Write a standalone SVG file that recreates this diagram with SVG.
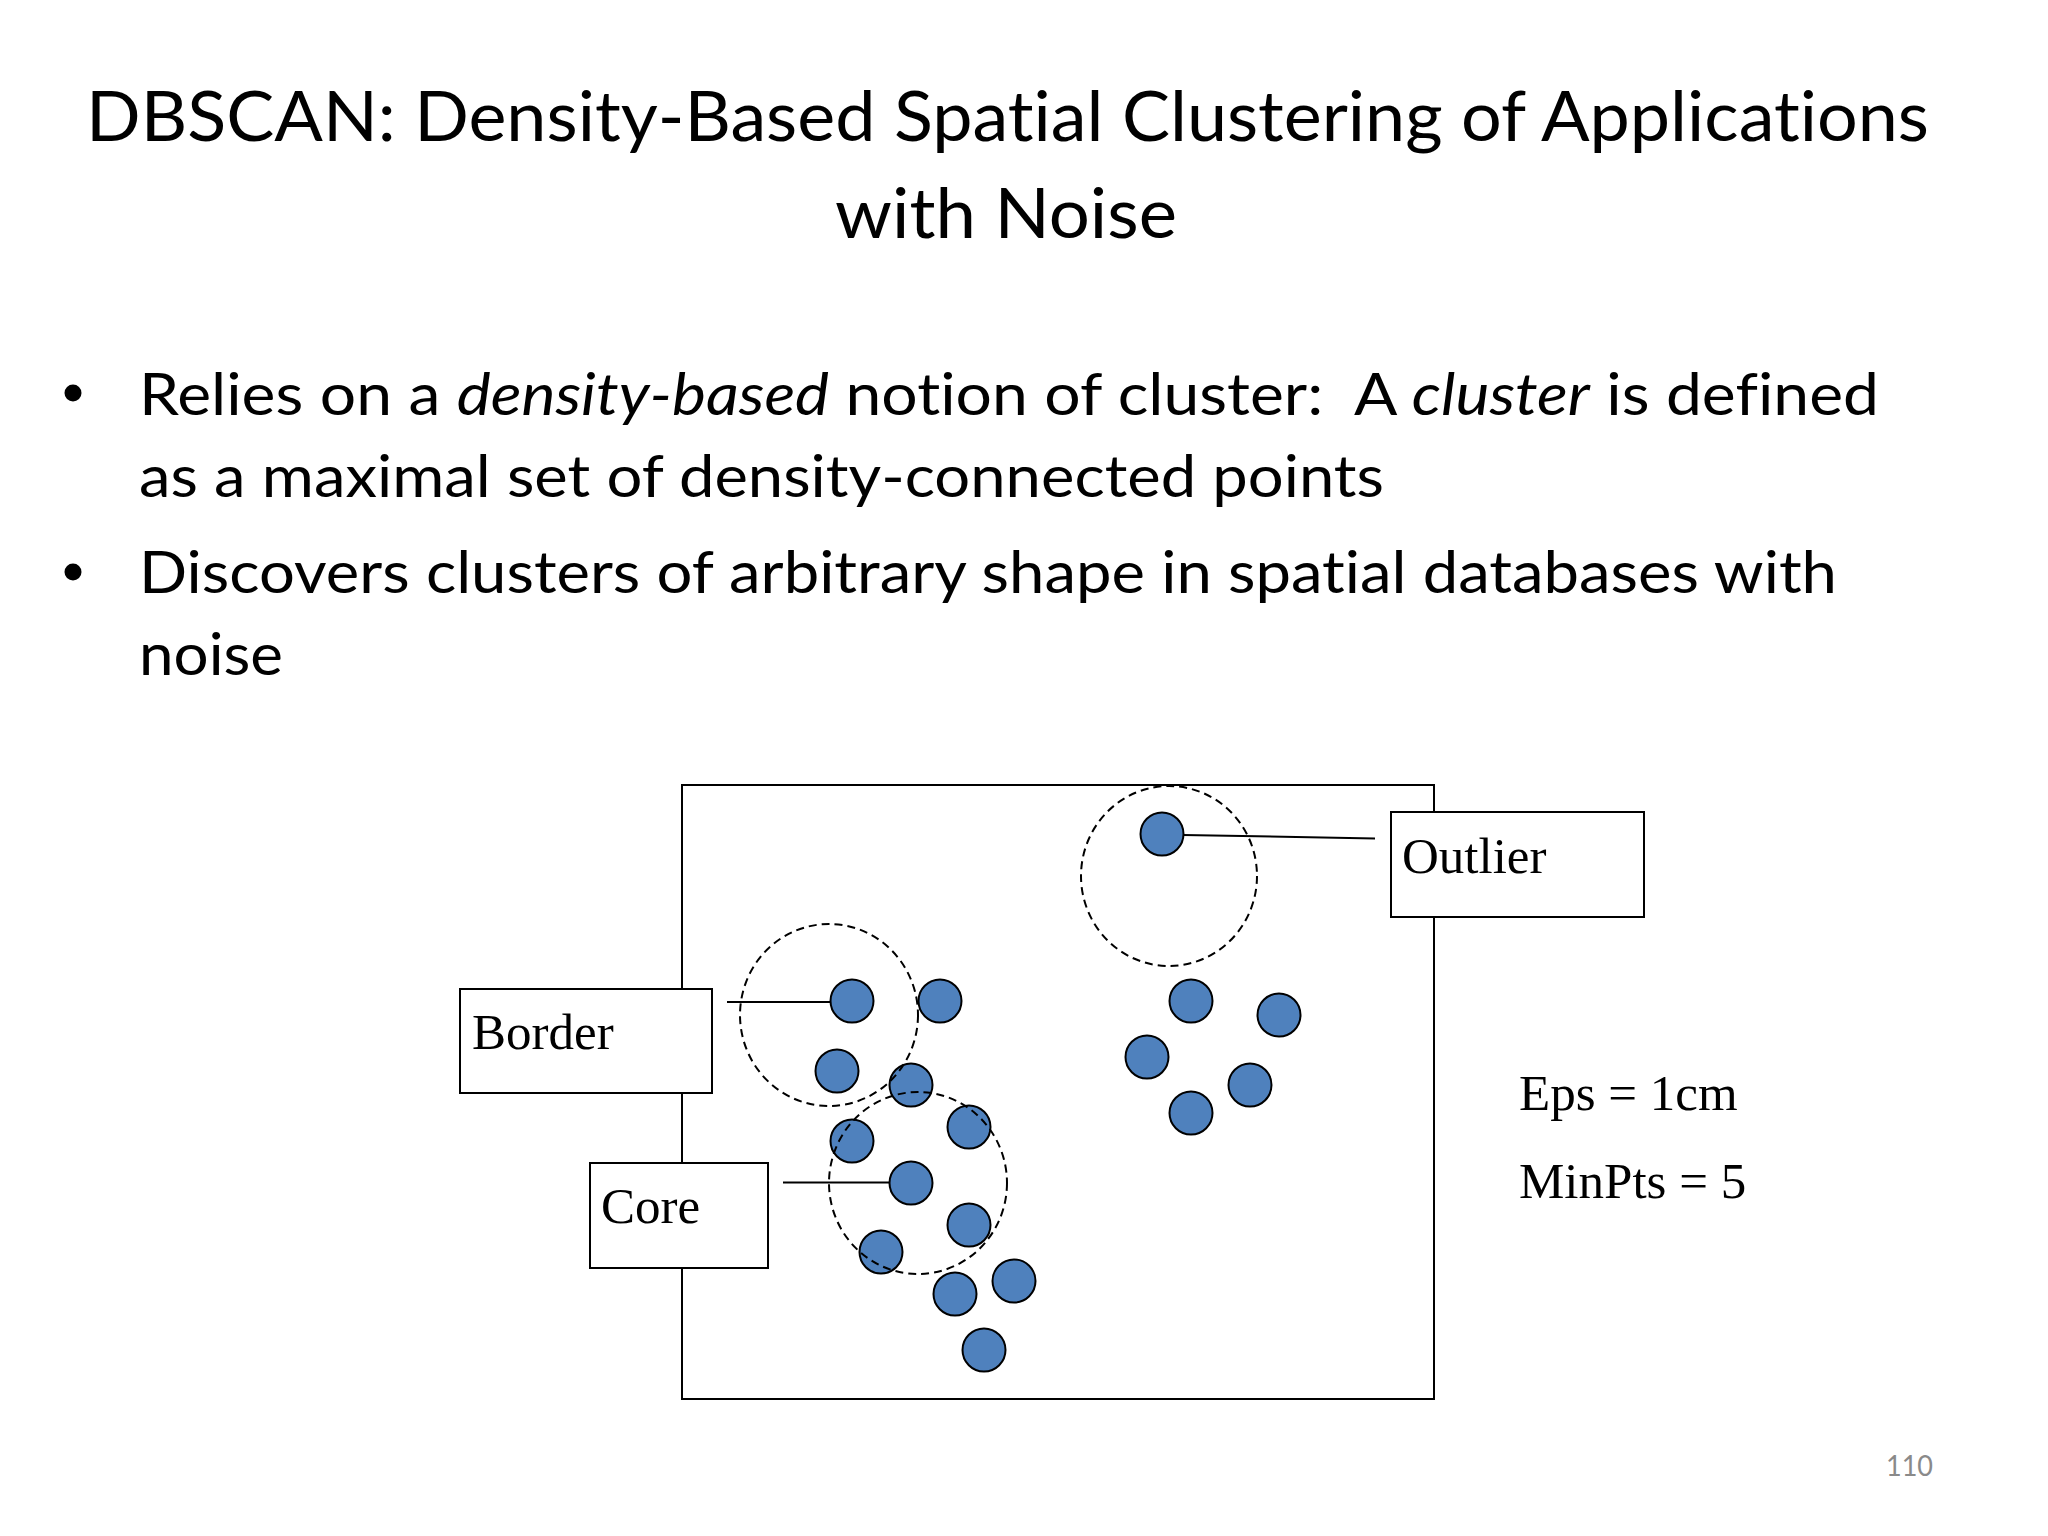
<svg xmlns="http://www.w3.org/2000/svg" width="2048" height="1536" viewBox="0 0 2048 1536">
<style>
text{font-variant-ligatures:none;font-feature-settings:"liga" 0,"clig" 0}
.title{font-family:Lato,"Open Sans","Noto Sans",sans-serif;font-size:70px;fill:#000}
.body{font-family:Lato,"Open Sans","Noto Sans",sans-serif;font-size:59px;fill:#000;white-space:pre}
.it{font-style:italic}
.lbl{font-family:"Liberation Serif","Times New Roman",serif;font-size:51px;fill:#000}
.box{fill:#fff;stroke:#000;stroke-width:2}
.frame{fill:none;stroke:#000;stroke-width:2}
.pt{fill:#4F81BD;stroke:#000;stroke-width:2}
.eps{fill:none;stroke:#000;stroke-width:2;stroke-dasharray:8 5}
.conn{stroke:#000;stroke-width:2;fill:none}
.pg{font-family:Lato,"Open Sans",sans-serif;font-size:29px;fill:#8a8a8a}
</style>
<rect width="2048" height="1536" fill="#fff"/>
<g id="title">
<text class="title" x="86" y="141" textLength="1843" lengthAdjust="spacingAndGlyphs">DBSCAN: Density-Based Spatial Clustering of Applications</text>
<text class="title" x="835" y="238" textLength="342" lengthAdjust="spacingAndGlyphs">with Noise</text>
</g>
<g id="bullets">
<circle cx="73" cy="393" r="8.5" fill="#000"/>
<text class="body" x="139" y="415" textLength="1740" lengthAdjust="spacingAndGlyphs">Relies on a <tspan class="it">density-based</tspan> notion of cluster:  A <tspan class="it">cluster</tspan> is defined</text>
<text class="body" x="139" y="497" textLength="1245" lengthAdjust="spacingAndGlyphs">as a maximal set of density-connected points</text>
<circle cx="73" cy="572" r="8.5" fill="#000"/>
<text class="body" x="139" y="593" textLength="1698" lengthAdjust="spacingAndGlyphs">Discovers clusters of arbitrary shape in spatial databases with</text>
<text class="body" x="139" y="675" textLength="144" lengthAdjust="spacingAndGlyphs">noise</text>
</g>
<g id="frame"><rect class="frame" x="682" y="785" width="752" height="614"/></g>
<g id="points">
<circle class="pt" cx="1162" cy="834" r="21.5"/>
<circle class="pt" cx="852" cy="1001" r="21.5"/>
<circle class="pt" cx="940" cy="1001" r="21.5"/>
<circle class="pt" cx="837" cy="1071" r="21.5"/>
<circle class="pt" cx="911" cy="1085" r="21.5"/>
<circle class="pt" cx="852" cy="1141" r="21.5"/>
<circle class="pt" cx="969" cy="1127" r="21.5"/>
<circle class="pt" cx="911" cy="1183" r="21.5"/>
<circle class="pt" cx="969" cy="1225" r="21.5"/>
<circle class="pt" cx="881" cy="1252" r="21.5"/>
<circle class="pt" cx="955" cy="1294" r="21.5"/>
<circle class="pt" cx="1014" cy="1281" r="21.5"/>
<circle class="pt" cx="984" cy="1350" r="21.5"/>
<circle class="pt" cx="1191" cy="1001" r="21.5"/>
<circle class="pt" cx="1279" cy="1015" r="21.5"/>
<circle class="pt" cx="1147" cy="1057" r="21.5"/>
<circle class="pt" cx="1250" cy="1085" r="21.5"/>
<circle class="pt" cx="1191" cy="1113" r="21.5"/>
</g>
<g id="eps-neighborhoods">
<ellipse class="eps" cx="1169" cy="876" rx="88" ry="90"/>
<ellipse class="eps" cx="829" cy="1015" rx="89" ry="91"/>
<ellipse class="eps" cx="918" cy="1183" rx="89" ry="91"/>
</g>
<g id="outlier-label">
<rect class="box" x="1391" y="812" width="253" height="105"/>
<text class="lbl" x="1402" y="873">Outlier</text>
</g>
<g id="border-label">
<rect class="box" x="460" y="989" width="252" height="104"/>
<text class="lbl" x="472" y="1049">Border</text>
</g>
<g id="core-label">
<rect class="box" x="590" y="1163" width="178" height="105"/>
<text class="lbl" x="601" y="1223">Core</text>
</g>
<g id="connectors">
<line class="conn" x1="1183" y1="835" x2="1375" y2="838.5"/>
<line class="conn" x1="727" y1="1002" x2="830" y2="1002"/>
<line class="conn" x1="783" y1="1182.5" x2="889" y2="1182.5"/>
</g>
<g id="params">
<text class="lbl" x="1519" y="1110">Eps = 1cm</text>
<text class="lbl" x="1519" y="1198">MinPts = 5</text>
</g>
<text class="pg" x="1886" y="1476" textLength="47" lengthAdjust="spacingAndGlyphs">110</text>
</svg>
